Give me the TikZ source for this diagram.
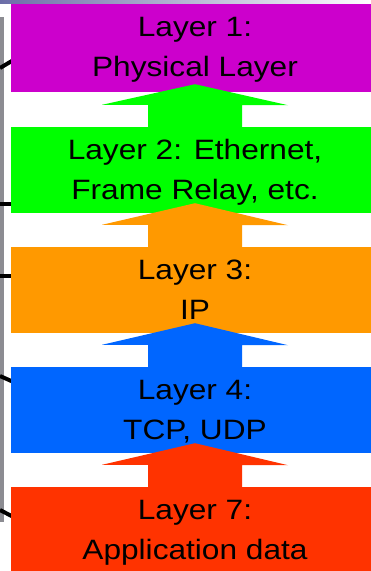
\documentclass[tikz,border=0pt]{standalone}
\usepackage{fontspec}
\setmainfont{Liberation Sans}[FakeStretch=1.13]
\usetikzlibrary{calc}

\definecolor{layermagenta}{RGB}{204,0,204}
\definecolor{layergreen}{RGB}{0,255,0}
\definecolor{layerorange}{RGB}{255,153,0}
\definecolor{layerblue}{RGB}{0,102,255}
\definecolor{layerred}{RGB}{255,51,0}
\definecolor{barblue}{RGB}{108,110,168}
\definecolor{stripgray}{RGB}{140,140,146}

\tikzset{
  layerbox/.style={rectangle, inner sep=0pt, minimum width=368pt, minimum height=86pt},
  layertext/.style={font=\fontsize{28}{40}\selectfont, align=center, anchor=base, inner sep=0pt},
  stub/.style={black, line width=4pt}
}

\begin{document}
\begin{tikzpicture}[x=1pt, y=-1pt]
\useasboundingbox (0,0) rectangle (371,571);
\clip (0,0) rectangle (371,571);
% slide remains at the edges
\shade[left color=barblue, right color=white] (0,0) rectangle (371,3.5);
\fill[stripgray] (0,17) rectangle (4,522);
\draw[stub] (0,68) -- (27,52);
\draw[stub] (0,204) -- (27,204);
\draw[stub] (0,276) -- (27,276);
\draw[stub] (0,376) -- (27,388);
\draw[stub] (0,510) -- (27,524);
% layer boxes
\node[layerbox, fill=layermagenta, minimum height=88pt] (box1) at (195,48) {};
\node[layerbox, fill=layergreen] (box2) at (195,170) {};
\node[layerbox, fill=layerorange] (box3) at (195,290) {};
\node[layerbox, fill=layerblue] (box4) at (195,410) {};
\node[layerbox, fill=layerred] (box7) at (195,530) {};
% arrows between the layers
\fill[layergreen] ($(box1.south)+(0,-8)$) -- ++(93,21) -- ++(-46,0) -- ($(box2.north)+(47,0)$) -- ($(box2.north)+(-47,0)$) -- ++(0,-22) -- ++(-46,0) -- cycle;
\fill[layerorange] ($(box2.south)+(0,-10)$) -- ++(93,22) -- ++(-46,0) -- ($(box3.north)+(47,0)$) -- ($(box3.north)+(-47,0)$) -- ++(0,-22) -- ++(-46,0) -- cycle;
\fill[layerblue] ($(box3.south)+(0,-10)$) -- ++(93,22) -- ++(-46,0) -- ($(box4.north)+(47,0)$) -- ($(box4.north)+(-47,0)$) -- ++(0,-22) -- ++(-46,0) -- cycle;
\fill[layerred] ($(box4.south)+(0,-10)$) -- ++(93,22) -- ++(-46,0) -- ($(box7.north)+(47,0)$) -- ($(box7.north)+(-47,0)$) -- ++(0,-22) -- ++(-46,0) -- cycle;
% layer names (base is the second line)
\node[layertext] (layer1) at ($(box1.north)+(0,73)$) {Layer 1:\\Physical Layer};
\node[layertext] (layer2) at ($(box2.north)+(0,73)$) {Layer 2: Ethernet,\\Frame Relay, etc.};
\node[layertext] (layer3) at ($(box3.north)+(0,73)$) {Layer 3:\\IP};
\node[layertext] (layer4) at ($(box4.north)+(0,73)$) {Layer 4:\\TCP, UDP};
\node[layertext] (layer7) at ($(box7.north)+(0,73)$) {Layer 7:\\Application data};
\end{tikzpicture}
\end{document}
